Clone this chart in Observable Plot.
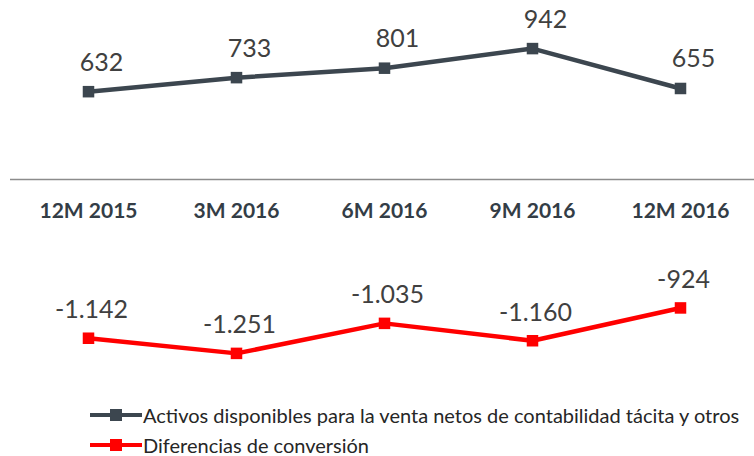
<!DOCTYPE html>
<html><head><meta charset="utf-8">
<script src="https://cdn.jsdelivr.net/npm/d3@7"></script>
<script src="https://cdn.jsdelivr.net/npm/@observablehq/plot@0.6"></script>
<style>
body{margin:0;background:#fff;font-family:Lato,sans-serif;}
#wrap{position:relative;width:754px;height:456px;overflow:hidden}
.leg{position:absolute;left:90px;display:flex;align-items:center;font-size:20px;line-height:20px;height:20px;color:#262626;white-space:nowrap}
.ico{position:relative;width:52px;height:14px;margin-right:1px}
.ico .ln{position:absolute;left:0;right:0;top:5px;height:4px}
.ico .sq{position:absolute;left:20px;top:1px;width:12px;height:12px}
</style></head>
<body><div id="wrap"><div id="chart"></div></div>
<script>
const periods = ["12M 2015","3M 2016","6M 2016","9M 2016","12M 2016"];
const activos = [632, 733, 801, 942, 655];
const conversion = [-1142, -1251, -1035, -1160, -924];
const seriesNames = ["Activos disponibles para la venta netos de contabilidad tácita y otros","Diferencias de conversión"];
const colors = ["#3c464f", "#ff0000"];

const fmt = d3.formatLocale({decimal:",", thousands:".", grouping:[3], currency:["","€"], minus:"-"}).format(",d");
const rows = [];
periods.forEach((p,i)=>{
  rows.push({period:p, value:activos[i], series:seriesNames[0]});
  rows.push({period:p, value:conversion[i], series:seriesNames[1]});
});
const s0 = rows.filter(d=>d.series===seriesNames[0]);
const s1 = rows.filter(d=>d.series===seriesNames[1]);

const plot = Plot.plot({
  width: 754, height: 400,
  marginLeft: 10, marginRight: 0, marginTop: 0, marginBottom: 0,
  x: {type:"point", domain: periods, range:[88, 680], padding: 0, axis: null},
  y: {domain:[-1590, 1288], axis: null},
  style: {fontFamily: "Lato, sans-serif", background: "#fff"},
  marks: [
    Plot.ruleY([0], {stroke:"#8c8c8c", strokeWidth:1.5}),
    Plot.text(periods, {x: d=>d, y: 0, dy: 32, text: d=>d, fontWeight:"bold", fontSize:21, fill:"#333d46"}),
    Plot.line(s0, {x:"period", y:"value", stroke: colors[0], strokeWidth:4.5}),
    Plot.line(s1, {x:"period", y:"value", stroke: colors[1], strokeWidth:4.5}),
    Plot.dot(s0, {x:"period", y:"value", symbol:"square", r:6.5, fill: colors[0], stroke:"none"}),
    Plot.dot(s1, {x:"period", y:"value", symbol:"square", r:6.5, fill: colors[1], stroke:"none"}),
    Plot.text(s0, {x:"period", y:"value", text: d=>fmt(d.value), dy:-29, dx:13, fontSize:25, fill:"#404040"}),
    Plot.text(s1, {x:"period", y:"value", text: d=>fmt(d.value), dy:-28, dx:3, fontSize:25, fill:"#404040"})
  ]
});
document.getElementById("chart").appendChild(plot);

const wrap = document.getElementById("wrap");
seriesNames.forEach((n,i)=>{
  const el = document.createElement("div");
  el.className = "leg";
  el.style.top = (i===0 ? 405 : 435) + "px";
  el.innerHTML = `<span class="ico"><span class="ln" style="background:${colors[i]}"></span><span class="sq" style="background:${colors[i]}"></span></span><span>${n}</span>`;
  wrap.appendChild(el);
});
</script></body></html>
